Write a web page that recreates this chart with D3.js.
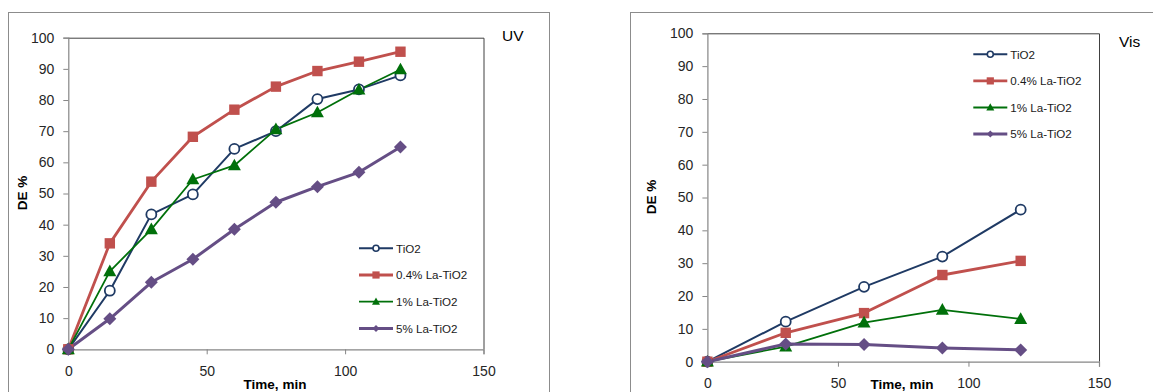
<!DOCTYPE html>
<html><head><meta charset="utf-8">
<script src="https://cdn.jsdelivr.net/npm/d3@7"></script>
<style>
html,body{margin:0;padding:0;background:#fff;}
svg{display:block;font-family:"Liberation Sans",Arial,sans-serif;}
</style></head>
<body>
<svg id="c" width="1153" height="392"></svg>
<script>
// ---- data ----
const seriesNames = ["TiO2", "0.4% La-TiO2", "1% La-TiO2", "5% La-TiO2"];
const uvTime = [0, 15, 30, 45, 60, 75, 90, 105, 120];
const uvTiO2 = [0, 18.8, 43.3, 49.7, 64.3, 70.0, 80.3, 83.4, 87.9];
const uvLa04 = [0, 34.0, 53.8, 68.2, 76.9, 84.3, 89.3, 92.3, 95.5];
const uvLa1  = [0, 25.0, 38.5, 54.5, 59.0, 70.6, 76.0, 83.3, 89.8];
const uvLa5  = [0, 9.8, 21.5, 28.9, 38.5, 47.2, 52.2, 56.8, 64.9];
const visTime = [0, 30, 60, 90, 120];
const visTiO2 = [0, 12.2, 22.8, 32.0, 46.3];
const visLa04 = [0, 8.8, 14.8, 26.4, 30.7];
const visLa1  = [0, 4.6, 11.9, 15.8, 13.0];
const visLa5  = [0, 5.4, 5.2, 4.2, 3.6];
const xTicks = [0, 50, 100, 150];
const yTicks = [0, 10, 20, 30, 40, 50, 60, 70, 80, 90, 100];

const styles = [
  {color:"#1F3A64", lw:2, marker:"circle", size:5, lsize:3},
  {color:"#C0504D", lw:2.8, marker:"square", size:5.2, lsize:3.6},
  {color:"#00700A", lw:1.8, marker:"triangle", size:6.5, lsize:4},
  {color:"#654E85", lw:3, marker:"diamond", size:6.5, lsize:3.5}
];

const svg = d3.select("#c");

function drawMarker(g, type, x, y, s, color, legend) {
  if (type === "circle") {
    g.append("circle").attr("cx", x).attr("cy", y).attr("r", s)
      .attr("fill", "#fff").attr("stroke", color).attr("stroke-width", legend ? 1.6 : 1.8);
  } else if (type === "square") {
    g.append("rect").attr("x", x - s).attr("y", y - s).attr("width", 2*s).attr("height", 2*s)
      .attr("fill", color);
  } else if (type === "triangle") {
    g.append("path").attr("d", `M${x},${y - s*1.05}L${x + s},${y + s*0.75}L${x - s},${y + s*0.75}Z`)
      .attr("fill", color);
  } else if (type === "diamond") {
    g.append("path").attr("d", `M${x},${y - s}L${x + s},${y}L${x},${y + s}L${x - s},${y}Z`)
      .attr("fill", color);
  }
}

function panel(cfg) {
  const g = svg.append("g");
  // outer frame
  g.append("rect").attr("x", cfg.frame[0] + 0.5).attr("y", cfg.frame[1] + 0.5)
    .attr("width", cfg.frame[2]).attr("height", cfg.frame[3])
    .attr("fill", "#fff").attr("stroke", "#8c8c8c").attr("stroke-width", 1);

  const x = d3.scaleLinear().domain([0, 150]).range([cfg.left, cfg.right]);
  const y = d3.scaleLinear().domain([0, 100]).range([cfg.bottom, cfg.top]);

  // plot area border (top/right)
  g.append("path")
    .attr("d", `M${cfg.left},${cfg.top + 0.5}H${cfg.right + 0.5}V${cfg.bottom}`)
    .attr("fill", "none").attr("stroke", "#404040").attr("stroke-width", 1);

  const ya = g.append("g").attr("transform", `translate(${cfg.left},0)`)
    .call(d3.axisLeft(y).tickValues(yTicks).tickSize(5).tickPadding(9).tickFormat(d3.format("d")));
  const xa = g.append("g").attr("transform", `translate(0,${cfg.bottom})`)
    .call(d3.axisBottom(x).tickValues(xTicks).tickSize(5).tickPadding(cfg.xpad).tickFormat(d3.format("d")));
  [ya, xa].forEach(a => {
    a.select(".domain").attr("stroke", "#868686").attr("stroke-width", 1.2);
    a.selectAll(".tick line").attr("stroke", "#868686");
    a.selectAll(".tick text").attr("fill", "#262626").style("font-size", "14px")
      .style("font-family", "'Liberation Sans',Arial,sans-serif");
  });

  // axis titles
  g.append("text").attr("x", cfg.xtitle[0]).attr("y", cfg.xtitle[1])
    .attr("text-anchor", "middle").style("font-size", "13.5px").style("font-weight", "bold")
    .attr("fill", "#000").text("Time, min");
  g.append("text").attr("transform", `translate(${cfg.ytitle[0]},${cfg.ytitle[1]}) rotate(-90)`)
    .attr("text-anchor", "middle").style("font-size", "13.5px").style("font-weight", "bold")
    .attr("fill", "#000").text("DE %");
  g.append("text").attr("x", cfg.label[0]).attr("y", cfg.label[1])
    .style("font-size", "15.5px").attr("fill", "#000").text(cfg.labelText);

  // series
  const line = d3.line().x(d => x(d[0])).y(d => y(d[1]));
  cfg.series.forEach((vals, i) => {
    const st = styles[i];
    const pts = cfg.time.map((t, k) => [t, vals[k]]);
    g.append("path").datum(pts).attr("d", line).attr("fill", "none")
      .attr("stroke", st.color).attr("stroke-width", st.lw).attr("stroke-linejoin", "round");
  });
  cfg.series.forEach((vals, i) => {
    const st = styles[i];
    cfg.time.forEach((t, k) => drawMarker(g, st.marker, x(t), y(vals[k]), st.size, st.color, false));
  });

  // legend
  seriesNames.forEach((name, i) => {
    const st = styles[i];
    const ly = cfg.legend[1] + i * cfg.legend[2];
    const lx = cfg.legend[0];
    g.append("line").attr("x1", lx).attr("x2", lx + 34).attr("y1", ly).attr("y2", ly)
      .attr("stroke", st.color).attr("stroke-width", st.lw);
    drawMarker(g, st.marker, lx + 17, ly, st.lsize, st.color, true);
    g.append("text").attr("x", lx + 37).attr("y", ly + 4.3)
      .style("font-size", "11.6px").attr("fill", "#1a1a1a").text(name);
  });
}

panel({
  frame: [8, 12, 541, 400],
  left: 68.3, right: 483.5, top: 37.7, bottom: 349.3, xpad: 12,
  xtitle: [275, 389], ytitle: [27, 193], label: [502, 41], labelText: "UV",
  time: uvTime, series: [uvTiO2, uvLa04, uvLa1, uvLa5],
  legend: [359, 248.3, 26.7]
});
panel({
  frame: [630, 12, 600, 400],
  left: 707.4, right: 1099, top: 33.3, bottom: 361.7, xpad: 11,
  xtitle: [902, 389], ytitle: [656, 197], label: [1119, 47], labelText: "Vis",
  time: visTime, series: [visTiO2, visLa04, visLa1, visLa5],
  legend: [973.3, 54.3, 26.6]
});
</script>
</body></html>
